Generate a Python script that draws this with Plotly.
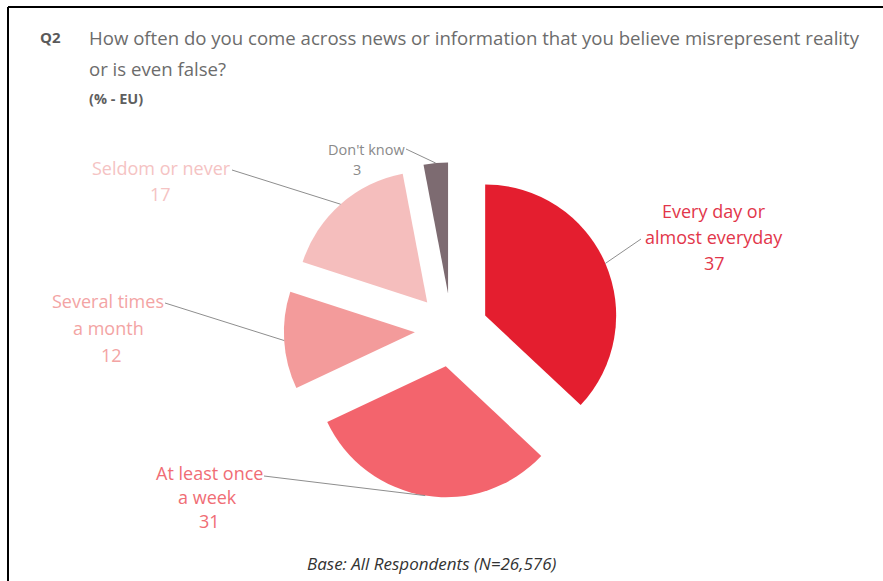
import math
import plotly.graph_objects as go

# Survey answers, shares in percent
categories = ["Every day or almost everyday", "At least once a week",
              "Several times a month", "Seldom or never", "Don't know"]
label_lines = [["Every day or", "almost everyday"], ["At least once", "a week"],
               ["Several times", "a month"], ["Seldom or never"], ["Don't know"]]
values = [37, 31, 12, 17, 3]

slice_colors = ["#e41e2f", "#f3646d", "#f39b9b", "#f5bebd", "#7d6b71"]
label_colors = ["#e2364a", "#f06d75", "#f3a4a4", "#f5c3c3", "#8a8a8a"]

W, H = 883, 581
CX, CY, R = 451.5, 330.0, 131.0   # pie centre and radius, pixels
PULL = 0.28                        # every slice exploded by the same amount
FONT = "Open Sans"


def px(x):
    return x / W


def py(y):
    return 1 - y / H


half = R * (1 + PULL)

fig = go.Figure(go.Pie(
    labels=categories, values=values, sort=False, direction="clockwise",
    rotation=0, pull=[PULL] * len(values),
    marker=dict(colors=slice_colors, line=dict(width=0)),
    textinfo="none", hoverinfo="label+value", showlegend=False,
    domain=dict(x=[px(CX - half), px(CX + half)],
                y=[py(CY + half), py(CY - half)]),
))

# midpoint of each slice's outer arc, where the leader line lands
total = sum(values)
cum = 0.0
arc_mid = []
for v in values:
    theta = math.radians((cum + v / 2) / total * 360)
    cum += v
    arc_mid.append((CX + half * math.sin(theta), CY - half * math.cos(theta)))

# label placement: centre x per line, first line y, line step, font size, leader start
label_layout = [
    dict(x=[714, 714, 714], y=211, step=26, size=18, anchor=(641, 239)),
    dict(x=[209, 207, 209], y=473, step=24, size=18, anchor=(264, 476)),
    dict(x=[108, 108, 111], y=301, step=27, size=18, anchor=(165, 303)),
    dict(x=[161, 160], y=168, step=26, size=18, anchor=(232, 170)),
    dict(x=[366, 357], y=149, step=20, size=14.5, anchor=(406, 149)),
]

annotations = []
shapes = []
for i, lay in enumerate(label_layout):
    lines = label_lines[i] + [str(values[i])]
    for k, t in enumerate(lines):
        annotations.append(dict(
            x=px(lay["x"][k]), y=py(lay["y"] + k * lay["step"]),
            xref="paper", yref="paper", text=t, showarrow=False,
            xanchor="center", yanchor="middle",
            font=dict(family=FONT, size=lay["size"], color=label_colors[i])))
    ax, ay = lay["anchor"]
    bx, by = arc_mid[i]
    shapes.append(dict(type="line", xref="paper", yref="paper",
                       x0=px(ax), y0=py(ay), x1=px(bx), y1=py(by),
                       line=dict(color="#8e8e8e", width=1)))

# question header and base note
header = [
    dict(x=px(38), y=py(37), text="<b>Q2</b>", xanchor="left",
         font=dict(family=FONT, size=15, color="#5a5a5a")),
    dict(x=px(87), y=py(37),
         text="How often do you come across news or information that you believe misrepresent reality",
         xanchor="left", font=dict(family=FONT, size=18.6, color="#6c6c6c")),
    dict(x=px(87), y=py(69), text="or is even false?", xanchor="left",
         font=dict(family=FONT, size=18.6, color="#6c6c6c")),
    dict(x=px(87), y=py(99), text="<b>(% - EU)</b>", xanchor="left",
         font=dict(family=FONT, size=14.5, color="#5f5f5f")),
    dict(x=px(432), y=py(563), text="<i>Base: All Respondents (N=26,576)</i>",
         xanchor="center", font=dict(family=FONT, size=17, color="#333333")),
]
for a in header:
    a.update(xref="paper", yref="paper", showarrow=False, yanchor="middle")
annotations += header

# frame along the top and left edges
shapes += [
    dict(type="line", xref="paper", yref="paper", x0=px(8), y0=py(7), x1=px(8), y1=py(H + 5),
         line=dict(color="#000000", width=2)),
    dict(type="line", xref="paper", yref="paper", x0=px(8), y0=py(7), x1=px(W + 5), y1=py(7),
         line=dict(color="#000000", width=2)),
]

fig.update_layout(
    width=W, height=H, autosize=False,
    margin=dict(l=0, r=0, t=0, b=0),
    paper_bgcolor="#ffffff", plot_bgcolor="#ffffff",
    annotations=annotations, shapes=shapes,
)

fig.write_html("out.html")
